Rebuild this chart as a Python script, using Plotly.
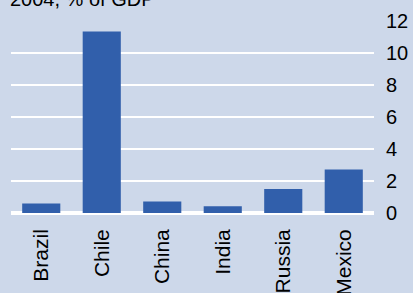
import plotly.graph_objects as go

categories = ["Brazil", "Chile", "China", "India", "Russia", "Mexico"]
values = [0.6, 11.35, 0.72, 0.42, 1.5, 2.72]
y_ticks = [0, 2, 4, 6, 8, 10, 12]
title_text = "2004, % of GDP"

BG = "#CDD8EA"
BAR = "#315FAB"
FONT = "Liberation Sans, Arial, sans-serif"

fig = go.Figure()
fig.add_trace(go.Bar(x=categories, y=values, marker=dict(color=BAR, line=dict(width=0))))

fig.update_layout(
    width=413, height=293,
    paper_bgcolor=BG, plot_bgcolor=BG,
    margin=dict(l=11, r=39, t=21, b=80, autoexpand=False),
    bargap=0.37,
    showlegend=False,
    font=dict(family=FONT, size=20, color="#000000"),
    xaxis=dict(
        tickangle=-90, showgrid=False, showline=False, ticks="",
        tickfont=dict(size=21), ticklabelstandoff=11, automargin=False,
    ),
    yaxis=dict(
        side="right", range=[0, 12], tickvals=y_ticks,
        showgrid=True, gridcolor="#FFFFFF", gridwidth=2,
        zeroline=True, zerolinecolor="#FFFFFF", zerolinewidth=4,
        showline=False, ticks="", tickfont=dict(size=20),
        ticklabelstandoff=11, automargin=False,
    ),
    annotations=[dict(
        text=title_text, xref="paper", yref="paper", x=-0.008, y=1.047,
        xanchor="left", yanchor="bottom", showarrow=False,
        font=dict(size=20, family=FONT),
    )],
)

fig.write_html(
    "out.html",
    config={"displayModeBar": False},
    post_script="document.body.style.margin='0';document.body.style.background='#CDD8EA';",
)
